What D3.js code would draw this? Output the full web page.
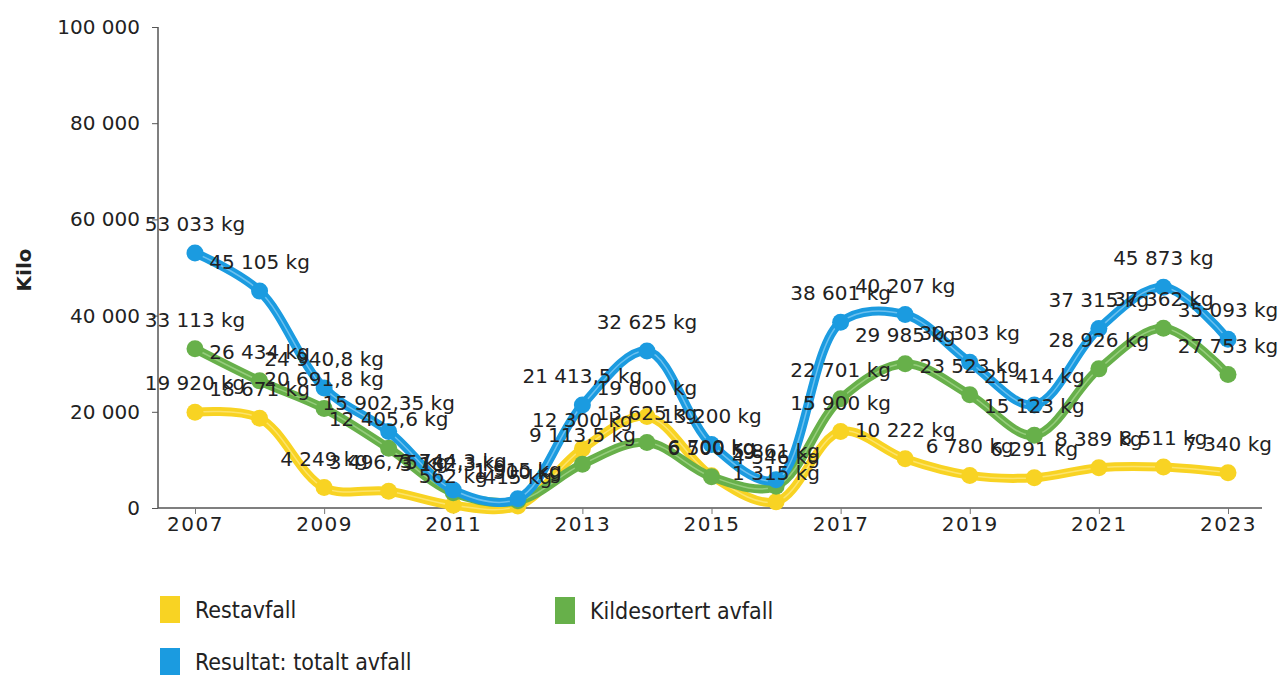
<!DOCTYPE html>
<html>
<head>
<meta charset="utf-8">
<script src="https://cdn.jsdelivr.net/npm/d3@7"></script>
<style>
	body { margin: 0; background: #fff; }
	svg { display: block; }
</style>
</head>
<body>
<div id="chart"></div>
<script>
	const years = [2007, 2008, 2009, 2010, 2011, 2012, 2013, 2014, 2015, 2016, 2017, 2018, 2019, 2020, 2021, 2022, 2023]
	const restavfall = [19920, 18671, 4249, 3496.75, 562, 415, 12300, 19000, 6700, 1315, 15900, 10222, 6780, 6291, 8389, 8511, 7340]
	const kildesortert = [33113, 26434, 20691.8, 12405.6, 3182.3, 1500, 9113.5, 13625, 6500, 4546, 22701, 29985, 23523, 15123, 28926, 37362, 27753]
	const totalt = [53033, 45105, 24940.8, 15902.35, 3744.3, 1915, 21413.5, 32625, 13200, 5861, 38601, 40207, 30303, 21414, 37315, 45873, 35093]
	const yTicks = [0, 20000, 40000, 60000, 80000, 100000]
	const xTicks = [2007, 2009, 2011, 2013, 2015, 2017, 2019, 2021, 2023]

	const series = [
		{ name: "Restavfall", values: restavfall, color: "#f8d323", light: "#fde98a" },
		{ name: "Kildesortert avfall", values: kildesortert, color: "#67b04a", light: "#a9d892" },
		{ name: "Resultat: totalt avfall", values: totalt, color: "#1b9be0", light: "#8fd0f5" }
	]

	const width = 1288, height = 675
	const font = "DejaVu Sans, Verdana, sans-serif"

	const svg = d3.select("#chart").append("svg")
		.attr("width", width)
		.attr("height", height)

	const x = d3.scaleLinear().domain([2007, 2023]).range([195, 1228])
	const y = d3.scaleLinear().domain([0, 100000]).range([508, 27])

	const nb = d3.formatLocale({ decimal: ",", thousands: " ", grouping: [3], currency: ["", ""] })
	const fmt = nb.format(",")

	// akser
	const yAxis = svg.append("g")
		.attr("transform", "translate(158,0)")
		.call(d3.axisLeft(y).tickValues(yTicks).tickFormat(fmt).tickSize(6).tickPadding(12))
	yAxis.select(".domain").attr("stroke", "#555").attr("stroke-width", 1.5).attr("d", "M0,27V508")
	yAxis.selectAll(".tick line").attr("stroke", "#555")
	yAxis.selectAll("text")
		.attr("fill", "#222")
		.style("font-family", font)
		.style("font-size", "20px")

	const xAxis = svg.append("g")
		.attr("transform", "translate(0,508)")
		.call(d3.axisBottom(x).tickValues(xTicks).tickFormat(d3.format("d")).tickSize(6).tickPadding(3))
	xAxis.select(".domain").attr("stroke", "#555").attr("stroke-width", 1.5).attr("d", "M158,0H1262")
	xAxis.selectAll(".tick line").attr("stroke", "#777")
	xAxis.selectAll("text")
		.attr("fill", "#222")
		.style("font-family", font)
		.style("font-size", "20px")
		.style("letter-spacing", "1.5px")

	svg.append("text")
		.attr("transform", "translate(31,270) rotate(-90)")
		.attr("text-anchor", "middle")
		.style("font-family", font)
		.style("font-size", "20px")
		.style("font-weight", "bold")
		.attr("fill", "#222")
		.text("Kilo")

	// linjer
	const line = d3.line()
		.x((d, i) => x(years[i]))
		.y(d => y(d))
		.curve(d3.curveCatmullRom.alpha(0.5))

	series.forEach(s => {
		const g = svg.append("g")
		g.append("path")
			.attr("d", line(s.values))
			.attr("fill", "none")
			.attr("stroke", s.color)
			.attr("stroke-width", 9)
			.attr("stroke-linejoin", "round")
		g.append("path")
			.attr("d", line(s.values))
			.attr("fill", "none")
			.attr("stroke", s.light)
			.attr("stroke-width", 1.5)
			.attr("opacity", 0.7)
		g.selectAll("circle")
			.data(s.values)
			.enter().append("circle")
			.attr("cx", (d, i) => x(years[i]))
			.attr("cy", d => y(d))
			.attr("r", 8.5)
			.attr("fill", s.color)
	})

	// verdier
	series.forEach(s => {
		svg.append("g").selectAll("text")
			.data(s.values)
			.enter().append("text")
			.attr("x", (d, i) => x(years[i]))
			.attr("y", d => y(d) - 22)
			.attr("text-anchor", "middle")
			.style("font-family", font)
			.style("font-size", "20px")
			.attr("fill", "#222")
			.text(d => fmt(d) + " kg")
	})

	// legende
	const legend = [
		{ s: series[0], x: 160, y: 596 },
		{ s: series[1], x: 555, y: 597 },
		{ s: series[2], x: 160, y: 648 }
	]
	const lg = svg.selectAll(".legend")
		.data(legend)
		.enter().append("g")
		.attr("class", "legend")
		.attr("transform", d => `translate(${d.x},${d.y})`)
	lg.append("rect")
		.attr("width", 20)
		.attr("height", 27)
		.attr("fill", d => d.s.color)
	lg.append("text")
		.attr("x", 35)
		.attr("y", 22)
		.style("font-family", "DejaVu Sans Condensed, DejaVu Sans, sans-serif")
		.style("font-stretch", "condensed")
		.style("font-size", "23px")
		.attr("fill", "#222")
		.text(d => d.s.name)
</script>
</body>
</html>
